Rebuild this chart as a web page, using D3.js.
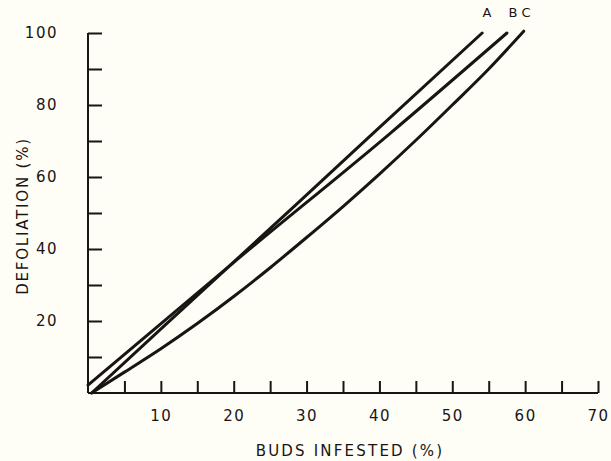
<!DOCTYPE html>
<html>
<head>
<meta charset="utf-8">
<script src="https://cdn.jsdelivr.net/npm/d3@7"></script>
<style>
  body { margin: 0; background: #fefef6; }
  svg text { font-family: "DejaVu Sans", sans-serif; fill: #1a1414; }
</style>
</head>
<body>
<div id="chart"></div>
<script>
// Curve data: [buds infested %, defoliation %]
const curveA = [[0.5, 0], [10.5, 18.7], [28.6, 52.4], [39.6, 73], [54.1, 100]];
const curveB = [[0, 2.2], [20, 36.3], [41.4, 72], [57.5, 100]];
const curveC = [[0.5, 0], [5, 5.8], [10, 12.3], [15, 19.3], [20, 26.8], [25, 34.8],
                [30, 43.2], [35, 51.8], [40, 60.8], [45, 70.2], [50, 80], [55, 90], [59.8, 100.5]];
const curveNames = ["A", "B", "C"];
const xTicks = [5, 10, 15, 20, 25, 30, 35, 40, 45, 50, 55, 60, 65, 70];
const yTicks = [10, 20, 30, 40, 50, 60, 70, 80, 90, 100];

const width = 611, height = 461;
const margin = { top: 33, right: 13, bottom: 68, left: 88 };
const innerW = width - margin.left - margin.right;
const innerH = height - margin.top - margin.bottom;
const ink = "#1a1414";

const svg = d3.select("#chart").append("svg")
    .attr("width", width)
    .attr("height", height)
    .style("background", "#fefef6");

const g = svg.append("g")
    .attr("transform", `translate(${margin.left},${margin.top})`);

const x = d3.scaleLinear().domain([0, 70]).range([0, innerW]);
const y = d3.scaleLinear().domain([0, 100]).range([innerH, 0]);

// x axis: ticks point up into the plot, labels every 10
const xAxis = d3.axisBottom(x)
    .tickValues(xTicks)
    .tickSize(-12)
    .tickPadding(17)
    .tickFormat(d => d % 10 === 0 ? d : "");

g.append("g")
    .attr("class", "x-axis")
    .attr("transform", `translate(0,${innerH})`)
    .call(xAxis)
    .call(s => s.select(".domain").attr("d", `M0,0H${innerW}`));

// y axis: ticks point right, labels every 20
const yAxis = d3.axisLeft(y)
    .tickValues(yTicks)
    .tickSize(-14)
    .tickPadding(30)
    .tickFormat(d => d % 20 === 0 ? d : "");

g.append("g")
    .attr("class", "y-axis")
    .call(yAxis)
    .call(s => s.select(".domain").attr("d", `M0,${innerH}V0`));

g.selectAll(".domain, .tick line")
    .attr("stroke", ink)
    .attr("stroke-width", 2);

g.selectAll(".tick text")
    .attr("font-size", 15)
    .attr("letter-spacing", "1.5px")
    .attr("fill", ink);

// curves
const line = d3.line()
    .x(d => x(d[0]))
    .y(d => y(d[1]))
    .curve(d3.curveMonotoneX);

const curves = [curveA, curveB, curveC];
g.selectAll(".curve")
    .data(curves)
    .enter().append("path")
    .attr("class", "curve")
    .attr("d", line)
    .attr("fill", "none")
    .attr("stroke", ink)
    .attr("stroke-width", 3)
    .attr("stroke-linecap", "round");

// curve labels above the line ends
const labelX = [487, 513, 526];
svg.selectAll(".curve-label")
    .data(curveNames)
    .enter().append("text")
    .attr("class", "curve-label")
    .attr("x", (d, i) => labelX[i])
    .attr("y", 17)
    .attr("text-anchor", "middle")
    .attr("font-size", 13)
    .text(d => d);

// axis titles
svg.append("text")
    .attr("x", 350)
    .attr("y", 456)
    .attr("text-anchor", "middle")
    .attr("font-size", 15)
    .attr("letter-spacing", "2.2px")
    .text("BUDS INFESTED (%)");

svg.append("text")
    .attr("transform", "translate(28,216) rotate(-90)")
    .attr("text-anchor", "middle")
    .attr("font-size", 15)
    .attr("letter-spacing", "1.8px")
    .text("DEFOLIATION (%)");
</script>
</body>
</html>
